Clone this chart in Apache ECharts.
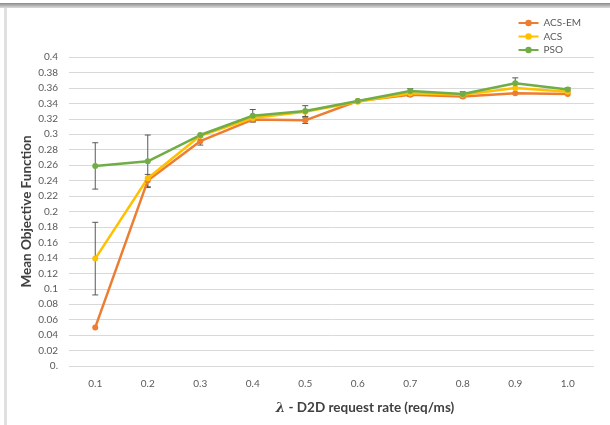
<!DOCTYPE html>
<html>
<head>
<meta charset="utf-8">
<script src="https://cdn.jsdelivr.net/npm/echarts@6/dist/echarts.min.js"></script>
<style>html,body{margin:0;padding:0;background:#fff}#c{width:610px;height:425px}</style>
</head>
<body>
<div id="c"></div>
<script>
var categories = ['0.1','0.2','0.3','0.4','0.5','0.6','0.7','0.8','0.9','1.0'];
var acsEm = [0.050, 0.240, 0.291, 0.319, 0.318, 0.343, 0.351, 0.349, 0.353, 0.352];
var acs   = [0.139, 0.243, 0.298, 0.321, 0.329, 0.342, 0.353, 0.351, 0.360, 0.355];
var pso   = [0.259, 0.265, 0.299, 0.324, 0.330, 0.343, 0.356, 0.352, 0.366, 0.358];
var acsEmErr = [0.000, 0.008, 0.005, 0.003, 0.004, 0.000, 0.002, 0.002, 0.000, 0.000];
var acsErr   = [0.047, 0.000, 0.000, 0.000, 0.000, 0.000, 0.000, 0.000, 0.000, 0.000];
var psoErr   = [0.030, 0.034, 0.000, 0.008, 0.007, 0.000, 0.003, 0.003, 0.007, 0.002];
var seriesNames = ['ACS-EM', 'ACS', 'PSO'];
var yMin = 0, yMax = 0.4, yStep = 0.02;

var colors = ['#ED7D31', '#FFC000', '#70AD47'];
var errData = [];
[[acsEm, acsEmErr], [acs, acsErr], [pso, psoErr]].forEach(function (p) {
  p[0].forEach(function (v, i) {
    if (p[1][i] > 0) errData.push([i, v - p[1][i], v + p[1][i]]);
  });
});

function lineSeries(name, data, color) {
  return {
    name: name, type: 'line', data: data,
    symbol: 'circle', symbolSize: 6,
    lineStyle: { color: color, width: 2.5 },
    itemStyle: { color: color },
    z: 3
  };
}

var chart = echarts.init(document.getElementById('c'), null, { renderer: 'canvas' });
chart.setOption({
  backgroundColor: '#ffffff',
  animation: false,
  textStyle: { fontFamily: 'Lato' },
  grid: { left: 69, right: 16, top: 57, bottom: 59 },
  legend: {
    data: seriesNames,
    orient: 'vertical',
    right: 24, top: 13,
    itemWidth: 20, itemHeight: 8, itemGap: 3.5,
    textStyle: { color: '#595959', fontSize: 10, fontFamily: 'Lato' }
  },
  xAxis: {
    type: 'category', data: categories, boundaryGap: true,
    axisLine: { show: false }, axisTick: { show: false },
    axisLabel: { color: '#595959', fontSize: 10, margin: 13 },
    splitLine: { show: false }
  },
  yAxis: {
    type: 'value', min: yMin, max: yMax, interval: yStep,
    name: 'Mean Objective Function', nameLocation: 'middle', nameGap: 35,
    nameMoveOverlap: false,
    nameTextStyle: { color: '#404040', fontSize: 13.5, fontWeight: 'bold', fontFamily: 'Lato' },
    axisLine: { show: false }, axisTick: { show: false },
    axisLabel: {
      color: '#595959', fontSize: 10, margin: 11,
      formatter: function (v) { return v === 0 ? '0.' : String(Number(v.toFixed(2))); }
    },
    splitLine: { lineStyle: { color: '#d9d9d9', width: 1 } }
  },
  series: [
    lineSeries(seriesNames[0], acsEm, colors[0]),
    lineSeries(seriesNames[1], acs, colors[1]),
    lineSeries(seriesNames[2], pso, colors[2]),
    {
      type: 'custom', name: 'err', data: errData, z: 2, silent: true,
      renderItem: function (params, api) {
        var x = api.value(0);
        var lo = api.coord([x, api.value(1)]);
        var hi = api.coord([x, api.value(2)]);
        var w = 3;
        var st = { stroke: '#595959', lineWidth: 1 };
        return {
          type: 'group',
          children: [
            { type: 'line', shape: { x1: lo[0], y1: lo[1], x2: hi[0], y2: hi[1] }, style: st },
            { type: 'line', shape: { x1: lo[0] - w, y1: lo[1], x2: lo[0] + w, y2: lo[1] }, style: st },
            { type: 'line', shape: { x1: hi[0] - w, y1: hi[1], x2: hi[0] + w, y2: hi[1] }, style: st }
          ]
        };
      }
    }
  ],
  graphic: [
    { type: 'rect', shape: { x: 0, y: 3, width: 610, height: 5 },
      style: { fill: new echarts.graphic.LinearGradient(0, 0, 0, 1, [
        { offset: 0, color: '#8a8a8a' }, { offset: 1, color: '#dcdcdc' }]) }, silent: true },
    { type: 'rect', shape: { x: 4, y: 8, width: 3, height: 417 },
      style: { fill: '#e0e0e0' }, silent: true },
    { type: 'text', x: 365, y: 408,
      style: {
        text: '{i|λ} - D2D request rate (req/ms)',
        align: 'center', verticalAlign: 'middle',
        fontSize: 13.5, fontWeight: 'bold', fontFamily: 'Lato', fill: '#404040',
        rich: { i: { fontStyle: 'italic', fontWeight: 'bold', fontSize: 13.5, fontFamily: 'DejaVu Serif', fill: '#404040' } }
      }, silent: true }
  ]
});
</script>
</body>
</html>
